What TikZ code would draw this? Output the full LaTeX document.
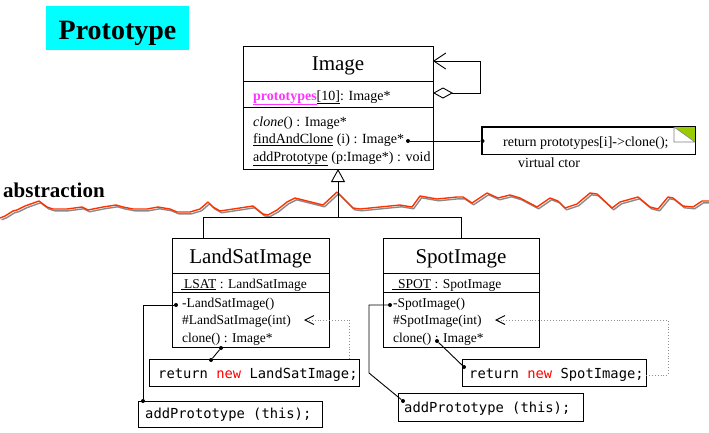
\documentclass[tikz,border=0pt]{standalone}
\usepackage{fontspec}
\setmainfont{Liberation Serif}
\newfontfamily\codefont{DejaVu Sans Mono}
\usetikzlibrary{arrows.meta}
\definecolor{titlecyan}{HTML}{00FFFF}
\definecolor{wavered}{HTML}{FF3300}
\definecolor{waveshadow}{HTML}{8A8A8A}
\definecolor{notegreen}{HTML}{99CC00}
\definecolor{protomag}{HTML}{FF33FF}
\definecolor{dotgray}{HTML}{909090}
\definecolor{newred}{HTML}{FF0000}
\tikzset{
  box/.style={draw, line width=0.9pt, inner sep=0pt},
  txt/.style={inner sep=0pt, anchor=base west},
  cname/.style={inner sep=0pt, anchor=base, font=\fontsize{21}{24}\selectfont},
  mtxt/.style={txt, font=\fontsize{14}{16}\selectfont},
  stxt/.style={txt, font=\fontsize{13.5}{16}\selectfont},
  ctxt/.style={txt, font=\codefont\fontsize{13.8}{16}\selectfont},
  pin/.style={circle, fill, inner sep=0pt, minimum size=4pt},
  link/.style={line width=0.9pt},
  dotlink/.style={dotgray, dotted, line width=0.9pt},
  sep/.style={line width=0.9pt}
}
\begin{document}
\begin{tikzpicture}[x=1pt,y=-1pt]
\useasboundingbox (0,0) rectangle (709,432);

% title
\node[fill=titlecyan, minimum width=143pt, minimum height=44pt, inner sep=0pt] (title) at (117.5,28) {};
\node[inner sep=0pt, anchor=base, font=\bfseries\fontsize{28}{30}\selectfont] (titletxt) at (117.5,39) {Prototype};

% abstraction wave
\def\wavepts{(0,218) (5,216) (13,211) (17,210) (25,206) (39,201) (47,207) (53,209) (67,209) (82,207) (88,210) (103,207) (116,205) (123,207) (133,209) (147,209) (158,207) (170,209) (177,212) (190,212) (200,209) (208,202) (213,207) (220,211) (253,206) (263,214) (268,215) (277,210) (287,202) (295,198) (323,205) (337,192) (353,208) (360,209) (400,205) (412,207) (420,196) (437,199) (457,197) (463,197) (472,203) (487,193) (498,198) (510,195) (520,198) (537,207) (550,198) (558,201) (565,208) (577,204) (590,193) (597,194) (612,208) (620,202) (638,197) (650,207) (658,209) (668,197) (673,198) (683,206) (693,207) (702,201) (709,201)}
\begin{scope}[shift={(1.6,1.8)}]
\draw[waveshadow, line width=1.4pt, line join=round] plot coordinates {\wavepts};
\end{scope}
\draw[wavered, line width=1.4pt, line join=round] plot coordinates {\wavepts};
\node[inner sep=0pt, anchor=base west, font=\bfseries\fontsize{21}{24}\selectfont] (abs) at (3,197) {abstraction};

% Image class
\node[box, minimum width=190pt, minimum height=123pt] (img) at (338,107.5) {};
\draw[sep] (243,81) -- (433,81);
\draw[sep] (243,107) -- (433,107);
\node[cname] (imgname) at (338,70) {Image};
\node[mtxt] (imgattr) at (253,100) {\textcolor{protomag}{\underline{\textbf{prototypes}}}\underline{[10]}: Image*};
\node[mtxt] (imgm1) at (253,126) {\textit{clone}() : Image*};
\node[mtxt] (imgm2) at (253,143.5) {\underline{findAndClone} (i) : Image*};
\node[mtxt] (imgm3) at (253,161) {\underline{addPrototype} (p:Image*) : void};

% self association
\coordinate (aggstart) at (433,93);
\coordinate (aggc1) at (480,93);
\coordinate (aggc2) at (480,61);
\coordinate (aggend) at (433,61);
\draw[link, {Diamond[open, length=20pt, width=11pt, line width=0.9pt]}-{Straight Barb[length=12pt, width=16pt, line width=0.9pt]}] (aggstart) -- (aggc1) -- (aggc2) -- (aggend);

% note
\node[box, minimum width=213pt, minimum height=27pt] (note) at (588.5,140.5) {};
\fill[notegreen] (674,127) -- (695,127) -- (695,142) -- cycle;
\draw[gray, line width=0.6pt, fill=white] (674,127) -- (674,142) -- (695,142) -- cycle;
\draw[line width=0.9pt] (note.south west) rectangle (note.north east);
\node[mtxt] (notetxt) at (503,146) {return prototypes[i]->clone();};
\node[mtxt] (vctor) at (518,167) {virtual ctor};
\node[pin] (fdot) at (408,141) {};
\node[pin] (ndot) at (482.5,141) {};
\draw[link] (fdot) -- (ndot);

% inheritance
\coordinate (hub) at (338,217);
\coordinate (lstop) at (203,238);
\coordinate (sptop) at (461,238);
\coordinate (imgbot) at (338,169);
\draw[link] (lstop) |- (hub);
\draw[link] (sptop) |- (hub);
\draw[link, -{Triangle[open, length=13pt, width=14pt, line width=0.9pt]}] (hub) -- (imgbot);

% LandSatImage
\node[box, minimum width=157pt, minimum height=109pt] (ls) at (250.5,292.5) {};
\draw[sep] (172,273) -- (329,273);
\draw[sep] (172,292) -- (329,292);
\node[cname] (lsname) at (250.5,263) {LandSatImage};
\node[stxt] (lsattr) at (181,288) {\underline{\hspace{3pt}LSAT} : LandSatImage};
\node[stxt] (lsm1) at (182,307) {-LandSatImage()};
\node[stxt] (lsm2) at (182,324) {\#LandSatImage(int)};
\node[stxt] (lsm3) at (182,342) {clone() : Image*};

\node[box, minimum width=210pt, minimum height=27pt] (lsret) at (254,372.5) {};
\node[ctxt] (lsrettxt) at (158,378) {return \textcolor{newred}{new} LandSatImage;};
\node[box, minimum width=184pt, minimum height=26pt] (lsadd) at (230,414) {};
\node[ctxt] (lsaddtxt) at (145,418) {addPrototype (this);};

\node[pin] (lsd1) at (176,305) {};
\node[pin] (lsd2) at (143,401) {};
\draw[link] (lsd1) -- (143,305) -- (lsd2);
\node[pin] (lsd3) at (221,348) {};
\node[pin] (lsd4) at (211,360) {};
\draw[link] (lsd3) -- (lsd4);
\coordinate (lstip) at (304,320);
\coordinate (lsbend) at (349,320);
\coordinate (lsret) at (349,359);
\draw[dotlink, -{Straight Barb[color=black, length=9pt, width=9pt, line width=0.9pt]}] (lsret) -- (lsbend) -- (lstip);

% SpotImage
\node[box, minimum width=156pt, minimum height=109pt] (sp) at (461,292.5) {};
\draw[sep] (383,273) -- (539,273);
\draw[sep] (383,292) -- (539,292);
\node[cname] (spname) at (461,263) {SpotImage};
\node[stxt] (spattr) at (392,288) {\underline{\hspace{6pt}SPOT} : SpotImage};
\node[stxt] (spm1) at (393,307) {-SpotImage()};
\node[stxt] (spm2) at (393,324) {\#SpotImage(int)};
\node[stxt] (spm3) at (393,342) {clone() : Image*};

\node[box, minimum width=184pt, minimum height=27pt] (spret) at (554,372.5) {};
\node[ctxt] (sprettxt) at (469,378) {return \textcolor{newred}{new} SpotImage;};
\node[box, minimum width=185pt, minimum height=28pt] (spadd) at (490.5,407) {};
\node[ctxt] (spaddtxt) at (404,412) {addPrototype (this);};

\node[pin] (spd1) at (390,305) {};
\node[pin] (spd2) at (403,401) {};
\draw[link] (spd1) -- (369,305) -- (369,373) -- (spd2);
\node[pin] (spd3) at (437,341) {};
\node[pin] (spd4) at (464,367) {};
\draw[link] (spd3) -- (spd4);
\coordinate (sptip) at (495,320);
\coordinate (spb1) at (668,320);
\coordinate (spb2) at (668,375);
\coordinate (spretc) at (646,375);
\draw[dotlink, -{Straight Barb[color=black, length=9pt, width=9pt, line width=0.9pt]}] (spretc) -- (spb2) -- (spb1) -- (sptip);
\end{tikzpicture}
\end{document}
